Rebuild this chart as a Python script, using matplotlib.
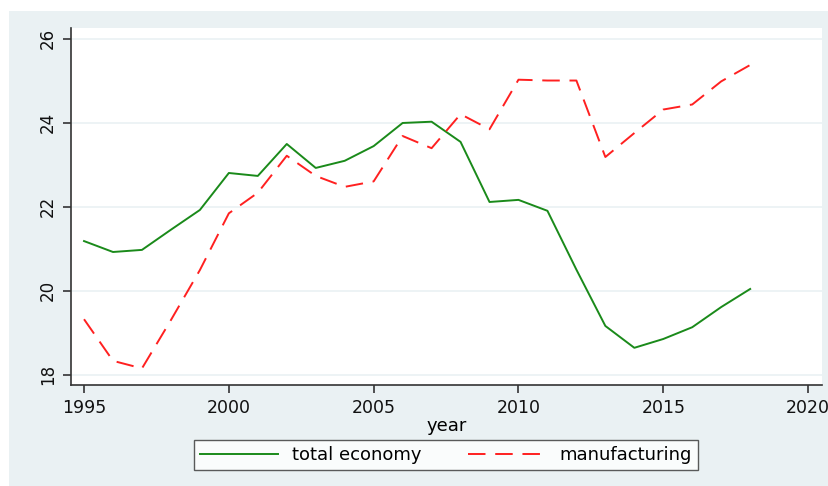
import matplotlib.pyplot as plt
from matplotlib.patches import Rectangle

plt.rcParams['font.family'] = ['DejaVu Sans']

years = list(range(1995, 2019))
total_economy = [21.18, 20.92, 20.97, 21.45, 21.92, 22.80, 22.73, 23.49, 22.92, 23.09,
                 23.44, 23.99, 24.02, 23.54, 22.11, 22.16, 21.90, 20.50, 19.16, 18.64,
                 18.85, 19.13, 19.61, 20.04]
manufacturing = [19.32, 18.33, 18.15, 19.30, 20.49, 21.84, 22.33, 23.21, 22.73, 22.47,
                 22.60, 23.68, 23.39, 24.20, 23.84, 25.02, 25.00, 25.00, 23.18, 23.75,
                 24.31, 24.43, 24.98, 25.37]
x_ticks = [1995, 2000, 2005, 2010, 2015, 2020]
y_ticks = [18, 20, 22, 24, 26]

bg = '#eaf1f3'
W, H = 829, 486

fig = plt.figure(figsize=(W / 100, H / 100), dpi=100)
# outer gray panel
fig.patches.append(Rectangle((9 / W, 0), 1 - 9 / W, 1 - 11 / H, transform=fig.transFigure,
                             facecolor=bg, edgecolor='none', zorder=-10))

ax = fig.add_axes([71 / W, 1 - 385 / H, (822 - 71) / W, (385 - 28) / H])
ax.set_facecolor('white')

ax.plot(years, total_economy, color='#1a8a1a', lw=1.4, label='total economy')
ax.plot(years, manufacturing, color='#ff2020', lw=1.4, dashes=(9, 5), label='manufacturing')

ax.set_xlim(1994.55, 2020.48)
ax.set_ylim(17.755, 26.25)
ax.set_xticks(x_ticks)
ax.set_yticks(y_ticks)
ax.set_yticklabels([str(v) for v in y_ticks], rotation=90, va='center')
ax.tick_params(axis='both', color='#333333', length=6, width=1.2, labelcolor='#111111')
ax.tick_params(axis='x', labelsize=12.5, pad=4)
ax.tick_params(axis='y', labelsize=12, pad=4)
ax.grid(axis='y', color=bg, lw=1.2)
ax.set_axisbelow(True)
for s in ['top', 'right']:
    ax.spines[s].set_visible(False)
for s in ['left', 'bottom']:
    ax.spines[s].set_color('#333333')
    ax.spines[s].set_linewidth(1.2)

ax.set_xlabel('year', fontsize=13, labelpad=0)

leg = fig.legend(loc='center', bbox_to_anchor=(446 / W, 1 - 455 / H), ncol=2,
                 frameon=True, fancybox=False, fontsize=13, handlelength=4.3,
                 handletextpad=0.75, columnspacing=2.6, borderpad=0.35,
                 borderaxespad=0, edgecolor='#333333')
leg.get_frame().set_linewidth(1.0)

fig.savefig('out.png', dpi=100, facecolor='white')
